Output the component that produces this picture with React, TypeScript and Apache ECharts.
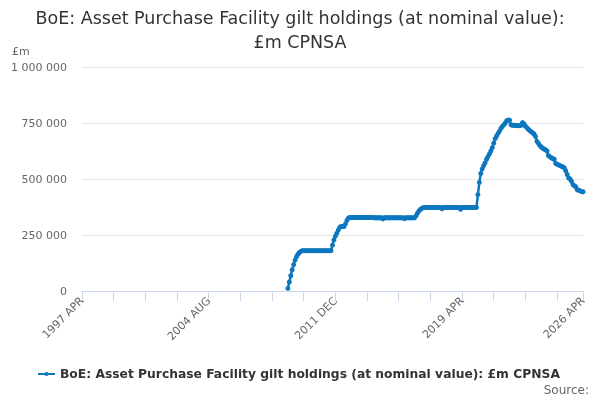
import React, { useEffect, useRef } from "react";
import * as echarts from "echarts";

const MONTHS = ["JAN", "FEB", "MAR", "APR", "MAY", "JUN", "JUL", "AUG", "SEP", "OCT", "NOV", "DEC"];
const FIRST_YEAR = 1997;
const FIRST_MONTH = 3; // APR
const LAST_YEAR = 2026;
const LAST_MONTH = 3; // APR
const SERIES_START = "2009 MAR";

const TITLE = "BoE: Asset Purchase Facility gilt holdings (at nominal value):\n£m CPNSA";
const SERIES_NAME = "BoE: Asset Purchase Facility gilt holdings (at nominal value): £m CPNSA";
const UNIT = "£m";

// £m, monthly from 2009 MAR
const holdings2009 = [12000, 40000, 68000, 95000, 118000, 138000, 153000, 164000, 172000, 177000];
const holdings2010 = [180000, 180000, 180000, 180000, 180000, 180000, 180000, 180000, 180000, 180000, 180000, 180000];
const holdings2011 = [180000, 180000, 180000, 180000, 180000, 180000, 180000, 180000, 180000, 205000, 228000, 245000];
const holdings2012 = [258000, 272000, 284000, 288000, 288000, 288000, 300000, 315000, 325000, 328000, 328000, 328000];
const holdings2013 = [328000, 328000, 328000, 328000, 328000, 328000, 328000, 328000, 328000, 328000, 328000, 328000];
const holdings2014 = [328000, 328000, 327000, 327000, 327000, 327000, 327000, 327000, 322000, 327000, 327000, 327000];
const holdings2015 = [327000, 327000, 327000, 327000, 327000, 327000, 327000, 327000, 327000, 327000, 327000, 323000];
const holdings2016 = [327000, 327000, 327000, 327000, 327000, 327000, 327000, 335000, 347000, 357000, 364000, 369000];
const holdings2017 = [372000, 373000, 373000, 373000, 373000, 373000, 373000, 373000, 373000, 373000, 373000, 373000];
const holdings2018 = [373000, 367000, 373000, 373000, 373000, 373000, 373000, 373000, 373000, 373000, 373000, 373000];
const holdings2019 = [373000, 373000, 365000, 373000, 373000, 373000, 373000, 373000, 373000, 373000, 373000, 373000];
const holdings2020 = [373000, 373000, 430000, 485000, 525000, 545000, 560000, 572000, 588000, 600000, 612000, 625000];
const holdings2021 = [640000, 660000, 680000, 692000, 704000, 714000, 726000, 735000, 742000, 750000, 760000, 763000];
const holdings2022 = [763000, 742000, 740000, 740000, 739000, 739000, 738000, 738000, 740000, 752000, 746000, 736000];
const holdings2023 = [729000, 722000, 716000, 711000, 706000, 701000, 690000, 668000, 660000, 650000, 643000, 638000];
const holdings2024 = [634000, 630000, 625000, 604000, 599000, 595000, 591000, 588000, 570000, 566000, 563000, 560000];
const holdings2025 = [557000, 554000, 550000, 537000, 520000, 505000, 500000, 490000, 475000, 470000, 465000, 452000];
const holdings2026 = [450000, 447000, 444000, 443000];

const Y_TICKS = [0, 250000, 500000, 750000, 1000000];
const TICK_EVERY = 22; // months
const LABEL_EVERY = 88; // months

const COLOR = "#0c77bf";
const FONT = "DejaVu Sans";

function buildCategories(): string[] {
  const out: string[] = [];
  let y = FIRST_YEAR;
  let m = FIRST_MONTH;
  while (y < LAST_YEAR || (y === LAST_YEAR && m <= LAST_MONTH)) {
    out.push(`${y} ${MONTHS[m]}`);
    m++;
    if (m === 12) {
      m = 0;
      y++;
    }
  }
  return out;
}

const fmt = (v: number) => String(v).replace(/\B(?=(\d{3})+(?!\d))/g, " ");

export default function App() {
  const ref = useRef<HTMLDivElement>(null);
  useEffect(() => {
    if (!ref.current) return;
    const chart = echarts.init(ref.current, undefined, { renderer: "svg" });
    const categories = buildCategories();
    const values = [
      ...holdings2009, ...holdings2010, ...holdings2011, ...holdings2012, ...holdings2013,
      ...holdings2014, ...holdings2015, ...holdings2016, ...holdings2017, ...holdings2018,
      ...holdings2019, ...holdings2020, ...holdings2021, ...holdings2022, ...holdings2023,
      ...holdings2024, ...holdings2025, ...holdings2026,
    ];
    const startIdx = categories.indexOf(SERIES_START);
    const data: (number | null)[] = categories.map((_, i) =>
      i >= startIdx && i - startIdx < values.length ? values[i - startIdx] : null
    );
    const last = categories.length - 1;

    chart.setOption({
      animation: false,
      textStyle: { fontFamily: FONT },
      title: {
        text: TITLE,
        left: "center",
        top: 1,
        textStyle: { fontFamily: FONT, fontSize: 17.5, fontWeight: "normal", color: "#333333", lineHeight: 24 },
      },
      grid: { left: 82, right: 17, top: 67, bottom: 109, outerBoundsMode: "none" },
      legend: {
        bottom: 20,
        left: 38,
        padding: 0,
        itemWidth: 17,
        itemHeight: 8,
        itemGap: 20,
        textStyle: { fontFamily: FONT, fontSize: 12.3, fontWeight: "bold", color: "#333333", padding: [0, 0, 0, 0] },
        data: [{ name: SERIES_NAME, icon: "path://M0,3 L17,3 L17,5 L0,5 Z M6.5,4 A2,2 0 1 1 10.5,4 A2,2 0 1 1 6.5,4 Z" }],
      },
      graphic: [
        {
          type: "text",
          left: 12,
          top: 46,
          style: { text: UNIT, fontFamily: FONT, fontSize: 11, fill: "#666666" },
        },
        {
          type: "text",
          right: 11,
          bottom: 4,
          style: { text: "Source:", fontFamily: FONT, fontSize: 12, fill: "#666666" },
        },
      ],
      xAxis: {
        type: "category",
        data: categories,
        boundaryGap: false,
        axisLine: { show: true, lineStyle: { color: "#ccd6eb", width: 1 } },
        axisTick: {
          show: true,
          length: 10,
          interval: (i: number) => i % TICK_EVERY === 0 || i === last,
          lineStyle: { color: "#ccd6eb" },
        },
        axisLabel: {
          interval: (i: number) => i % LABEL_EVERY === 0 || i === last,
          rotate: 45,
          margin: 8,
          fontFamily: FONT,
          fontSize: 11,
          color: "#666666",
        },
        splitLine: { show: false },
      },
      yAxis: {
        type: "value",
        min: Y_TICKS[0],
        max: Y_TICKS[Y_TICKS.length - 1],
        interval: Y_TICKS[1] - Y_TICKS[0],
        axisLine: { show: false },
        axisTick: { show: false },
        axisLabel: {
          margin: 15,
          fontFamily: FONT,
          fontSize: 11,
          color: "#666666",
          formatter: (v: number) => fmt(v),
        },
        splitLine: { lineStyle: { color: "#e6e6e6", width: 1 } },
      },
      series: [
        {
          name: SERIES_NAME,
          type: "line",
          data,
          connectNulls: false,
          showSymbol: true,
          showAllSymbol: true,
          symbol: "circle",
          symbolSize: 5,
          itemStyle: { color: COLOR },
          lineStyle: { color: COLOR, width: 2.5 },
        },
      ],
    });
    return () => chart.dispose();
  }, []);
  return <div ref={ref} style={{ position: "fixed", left: 0, top: 0, width: 600, height: 400 }} />;
}
